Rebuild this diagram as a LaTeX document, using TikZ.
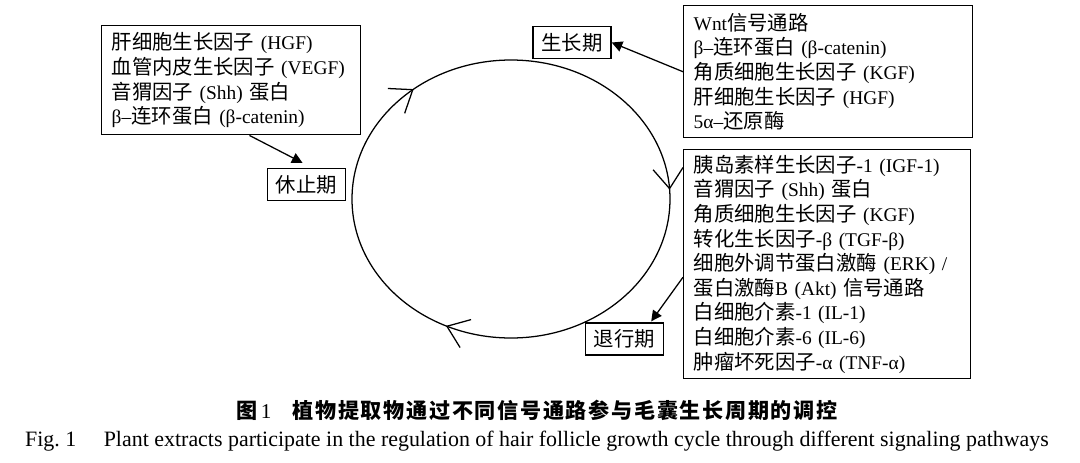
\documentclass[tikz,border=0pt]{standalone}
\usepackage{fontspec}
\setmainfont{Liberation Serif}
\newfontfamily\cjk[Scale=1.05]{Noto Sans CJK SC}
\newfontfamily\cjkcap[LetterSpace=8]{Noto Sans CJK SC}
\newcommand\zh[1]{{\cjk #1}}
\usetikzlibrary{positioning, calc, arrows.meta, decorations.markings}

\begin{document}
\begin{tikzpicture}[
  x=0.025cm, y=-0.025cm,
  infobox/.style={draw, line width=1pt, anchor=north west, align=left, inner xsep=0.25cm, font=\fontsize{13.8}{17.5}\selectfont},
  stage/.style={draw, line width=1pt, minimum width=1.95cm, minimum height=0.8cm, inner sep=0pt, font=\cjk\fontsize{13.8}{16}\selectfont},
  link/.style={line width=0.9pt, -{Triangle[length=7.5pt, width=7.5pt]}},
  cyclebarb/.style={postaction={decorate}, decoration={markings,
    mark=at position 0.321 with {\arrow{Straight Barb[length=0.5cm, width=0.75cm]}},
    mark=at position 0.64 with {\arrow{Straight Barb[length=0.5cm, width=0.75cm]}},
    mark=at position 0.99 with {\arrow{Straight Barb[length=0.5cm, width=0.75cm]}}}},
]
\useasboundingbox (0,0) rectangle (1080,462);

% Growth cycle
\draw[line width=0.9pt, cyclebarb] (511,199) ellipse [x radius=159, y radius=139];

% Factor boxes
\node[infobox, text width=5.975cm, minimum height=2.725cm] (hgfbox) at (101,25)
  {\zh{肝细胞生长因子} (HGF)\\ \zh{血管内皮生长因子} (VEGF)\\ \zh{音猬因子} (Shh) \zh{蛋白}\\ β–\zh{连环蛋白} (β-catenin)};
\node[infobox, text width=6.725cm, minimum height=3.3cm] (wntbox) at (683,5)
  {Wnt\zh{信号通路}\\ β–\zh{连环蛋白} (β-catenin)\\ \zh{角质细胞生长因子} (KGF)\\ \zh{肝细胞生长因子} (HGF)\\ 5α–\zh{还原酶}};
\node[infobox, text width=6.675cm, minimum height=5.725cm] (igfbox) at (683,149)
  {\zh{胰岛素样生长因子}-1 (IGF-1)\\ \zh{音猬因子} (Shh) \zh{蛋白}\\ \zh{角质细胞生长因子} (KGF)\\ \zh{转化生长因子}-β (TGF-β)\\
   \zh{细胞外调节蛋白激酶} (ERK) /\\ \zh{蛋白激酶}B (Akt) \zh{信号通路}\\ \zh{白细胞介素}-1 (IL-1)\\ \zh{白细胞介素}-6 (IL-6)\\ \zh{肿瘤坏死因子}-α (TNF-α)};

% Stages
\node[stage] (telogen) at (306.5,184.5) {休止期};
\node[stage] (anagen) at (572,42.5) {生长期};
\node[stage] (catagen) at (624.5,339) {退行期};

% Links
\draw[link] ($(hgfbox.south west)!0.57!(hgfbox.south east)$) -- ($(telogen.north)+(-4,-5)$);
\draw[link] (wntbox.west) -- (anagen.east);
\draw[link] ($(igfbox.west)+(0,13)$) -- ($(catagen.north east)+(-13,-1)$);

% Caption
\node[font=\fontsize{15}{18}\selectfont] (cncap) at (537,410)
  {{\cjkcap\bfseries 图}\,1\quad{\cjkcap\bfseries 植物提取物通过不同信号通路参与毛囊生长周期的调控}};
\node[anchor=base, font=\fontsize{15.6}{18}\selectfont] (encap) at (537,446)
  {Fig.~1\quad\ Plant extracts participate in the regulation of hair follicle growth cycle through different signaling pathways};
\end{tikzpicture}
\end{document}
